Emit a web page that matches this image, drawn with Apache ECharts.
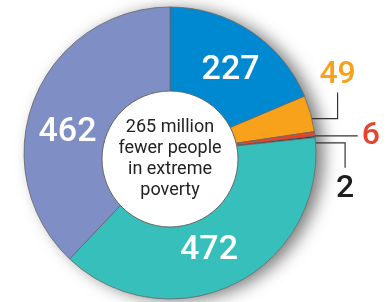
<!DOCTYPE html>
<html>
<head>
<meta charset="utf-8">
<script src="https://cdn.jsdelivr.net/npm/echarts@6/dist/echarts.min.js"></script>
<style>
    html, body { margin: 0; padding: 0; background: #fff; }
    #main { width: 392px; height: 302px; }
</style>
</head>
<body>
<div id="main"></div>
<script>
// values clockwise from 12 o'clock (millions)
var values = [227, 49, 6, 2, 472, 462];
var centerText = '265 million\nfewer people\nin extreme\npoverty';

var colors = ['#0089d0', '#f8a21c', '#e9442a', '#1e1e1e', '#37bfbb', '#7f8fc6'];
var outside = [false, true, true, true, false, false];
var labelColors = ['#fff', '#f8a21c', '#e9442a', '#1e1e1e', '#fff', '#fff'];

var pieData = [];
for( var i=0; i<values.length; i++ ){
    pieData.push({
        value: values[i],
        itemStyle: { color: colors[i] },
        label: {
            position: outside[i] ? 'outside' : 'inside',
            color: labelColors[i],
            fontSize: outside[i] ? 32 : 34
        },
        labelLine: { show: outside[i], length: 5, length2: 5 }
    });
}

// small nudges of the inside labels
var insideShift = { 0: [2, 6], 4: [-8, 2], 5: [-4, 19] };

var option = {
    animation: false,
    series: [
        {
            // soft drop shadow behind the ring
            type: 'pie',
            silent: true,
            z: 1,
            center: [170, 153],
            radius: [0, 146],
            label: { show: false },
            itemStyle: {
                color: '#ccc',
                shadowColor: 'rgba(0,0,0,0.5)',
                shadowBlur: 16,
                shadowOffsetX: 8,
                shadowOffsetY: 2
            },
            data: [1]
        },
        {
            type: 'pie',
            z: 2,
            center: [170, 153],
            radius: [60, 146],
            startAngle: 90,
            clockwise: true,
            emphasis: { disabled: true },
            itemStyle: { borderColor: '#666', borderWidth: 0.8 },
            label: {
                show: true,
                formatter: '{c}',
                fontFamily: 'Roboto',
                fontWeight: 500
            },
            labelLine: { lineStyle: { color: '#333', width: 1.2 } },
            labelLayout: function ( params ) {
                var idx = params.dataIndex;
                if ( !outside[idx] ) {
                    var s = insideShift[idx] || [0, 0];
                    return { dx: s[0], dy: s[1] };
                }
                var p = params.labelLinePoints[0];
                var x = p[0], y = p[1];
                if ( idx === 1 ) {
                    return {
                        x: x + 27, y: y - 23, align: 'center', verticalAlign: 'bottom',
                        labelLinePoints: [[x + 1, y + 5], [x + 27, y + 5], [x + 27, y - 21]]
                    };
                }
                if ( idx === 2 ) {
                    return {
                        x: x + 47, y: y + 2, align: 'left', verticalAlign: 'middle',
                        labelLinePoints: [[x, y + 2], [x + 22, y + 2], [x + 43, y + 2]]
                    };
                }
                return {
                    x: x + 30, y: y + 36, align: 'center', verticalAlign: 'top',
                    labelLinePoints: [[x + 1, y + 6], [x + 30, y + 6], [x + 30, y + 31]]
                };
            },
            data: pieData
        },
        {
            // white centre disc with the caption
            type: 'pie',
            silent: true,
            z: 3,
            center: [170, 159],
            radius: [0, 68],
            itemStyle: { color: '#fff', borderColor: '#666', borderWidth: 1 },
            label: {
                show: true,
                position: 'center',
                formatter: '{b}',
                fontFamily: 'Roboto',
                fontSize: 18,
                lineHeight: 21,
                color: '#222'
            },
            data: [{ value: 1, name: centerText }]
        }
    ]
};

var chart = echarts.init(document.getElementById('main'));
chart.setOption( option );
</script>
</body>
</html>
